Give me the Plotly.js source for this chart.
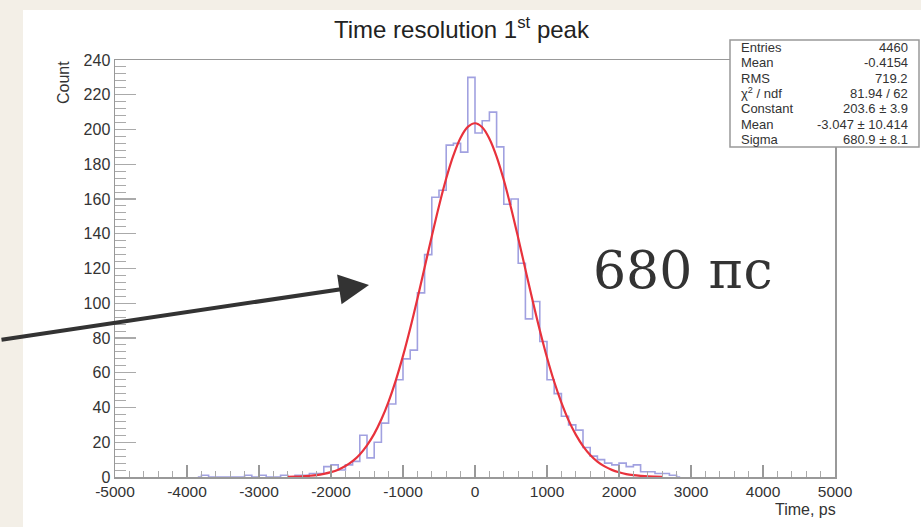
<!DOCTYPE html>
<html>
<head>
<meta charset="utf-8">
<script src="https://cdn.plot.ly/plotly-3.0.1.min.js"></script>
<style>
html,body{margin:0;padding:0;background:#f3efe7;}
#chart{width:921px;height:527px;}
</style>
</head>
<body>
<div id="chart"></div>
<script>
// Histogram: bin lower edges (ps) and counts
var binEdgesLow = [-3900,-3800,-3700,-3600,-3500,-3400,-3300,-3200,-3100,-3000,-2900,-2800,-2700,-2600,-2500,-2400,-2300,-2200,-2100,-2000,-1900,-1800,-1700,-1600,-1500,-1400,-1300,-1200,-1100,-1000,-900,-800,-700,-600,-500,-400,-300,-200,-100,0,100,200,300,400,500,600,700,800,900,1000,1100,1200,1300,1400,1500,1600,1700,1800,1900,2000,2100,2200,2300,2400,2500,2600,2700,2800];
var counts = [0,1,0,0,0,0,0,1,0,1,0,0,1,0,1,1,2,2,6,7,4,7,9,24,11,20,31,42,56,68,73,106,128,161,165,191,192,187,230,198,205,210,190,157,160,123,91,101,78,56,48,35,30,27,17,12,10,8,7,8,6,7,3,3,2,2,1,0];
var binWidth = 100;

// Fit curve (red line)
var fitX = [-2600,-2500,-2400,-2300,-2200,-2100,-2000,-1900,-1800,-1700,-1600,-1500,-1400,-1300,-1200,-1100,-1000,-900,-800,-700,-600,-500,-400,-300,-200,-100,0,100,200,300,400,500,600,700,800,900,1000,1100,1200,1300,1400,1500,1600,1700,1800,1900,2000,2100,2200,2300,2400,2500,2600];
var fitY = [0.15,0.24,0.41,0.69,1.1,1.8,2.8,4.2,6.3,9.1,13.0,18.2,24.8,33.2,43.4,55.6,69.7,85.5,102.6,120.6,138.6,156.0,171.8,185.1,195.3,201.5,203.6,201.3,194.7,184.4,170.9,155.0,137.6,119.5,101.6,84.5,68.8,54.8,42.8,32.6,24.4,17.8,12.7,8.9,6.1,4.1,2.7,1.7,1.1,0.7,0.4,0.25,0.15];

// Stats box
var statLabels = ["Entries","Mean","RMS","\u03c7<sup>2</sup> / ndf","Constant","Mean","Sigma"];
var statValues = ["4460","-0.4154","719.2","81.94 / 62","203.6 \u00b1 3.9","-3.047 \u00b1 10.414","680.9 \u00b1 8.1"];

var xTickVals = [-5000,-4000,-3000,-2000,-1000,0,1000,2000,3000,4000,5000];
var yTickVals = [0,20,40,60,80,100,120,140,160,180,200,220,240];

// Layout geometry (pixels)
var W = 921, H = 527;
var mL = 115, mR = 86, mT = 60, mB = 50;
var pw = W - mL - mR, ph = H - mT - mB;
function px2x(p){ return (p - mL) / pw; }
function px2y(p){ return (H - mB - p) / ph; }

var centers = binEdgesLow.map(function(e){ return e + binWidth/2; });

var traces = [
  {x: centers, y: counts, type:'scatter', mode:'lines',
   line:{shape:'hvh', color:'#8a8ad8', width:1.6}, opacity:0.8, hoverinfo:'skip'},
  {x: fitX, y: fitY, type:'scatter', mode:'lines',
   line:{shape:'spline', color:'#e8323c', width:2.2}, hoverinfo:'skip'}
];

var FONT = 'Liberation Sans, Arial, sans-serif';
var annotations = [];
annotations.push({xref:'paper', yref:'paper', x:px2x(462), y:px2y(28), xanchor:'center', yanchor:'middle',
  text:'Time resolution 1<sup>st</sup> peak', showarrow:false, font:{family:FONT, size:24, color:'#222'}});
annotations.push({xref:'paper', yref:'paper', x:px2x(63), y:px2y(83), xanchor:'center', yanchor:'middle',
  text:'Count', textangle:-90, showarrow:false, font:{family:FONT, size:16, color:'#333'}});
annotations.push({xref:'paper', yref:'paper', x:px2x(838), y:px2y(509), xanchor:'right', yanchor:'middle',
  text:'Time, ps', showarrow:false, font:{family:FONT, size:16, color:'#333'}});
annotations.push({xref:'paper', yref:'paper', x:px2x(683), y:px2y(270), xanchor:'center', yanchor:'middle',
  text:'680 \u043f\u0441', showarrow:false, font:{family:'DejaVu Serif, Liberation Serif, serif', size:52, color:'#333'}});
// arrow
annotations.push({xref:'paper', yref:'paper', x:px2x(369), y:px2y(285), text:'', showarrow:true,
  axref:'pixel', ayref:'pixel', ax:-369, ay:55, arrowhead:2, arrowsize:1.5, arrowwidth:4, arrowcolor:'#333', standoff:0});

var boxTop = 40, boxBot = 147, boxL = 730, boxR = 919;
var rowH = (boxBot - boxTop) / statLabels.length;
for (var i = 0; i < statLabels.length; i++) {
  var yc = boxTop + rowH * (i + 0.5);
  annotations.push({xref:'paper', yref:'paper', x:px2x(739), y:px2y(yc), xanchor:'left', yanchor:'middle',
    text:statLabels[i], showarrow:false, font:{family:FONT, size:13, color:'#333'}});
  annotations.push({xref:'paper', yref:'paper', x:px2x(910), y:px2y(yc), xanchor:'right', yanchor:'middle',
    text:statValues[i], showarrow:false, font:{family:FONT, size:13, color:'#333'}});
}

var shapes = [
  {type:'rect', xref:'paper', yref:'paper', x0:px2x(23), x1:px2x(W+2), y0:px2y(H+2), y1:px2y(10),
   fillcolor:'#ffffff', line:{width:0}, layer:'below'},
  {type:'rect', xref:'paper', yref:'paper', x0:px2x(boxL), x1:px2x(boxR), y0:px2y(boxBot), y1:px2y(boxTop),
   fillcolor:'#ffffff', line:{color:'#999', width:1.5}, layer:'above'}
];

var layout = {
  width: W, height: H,
  margin:{l:mL, r:mR, t:mT, b:mB, pad:0},
  paper_bgcolor:'#f3efe7', plot_bgcolor:'rgba(0,0,0,0)',
  showlegend:false,
  font:{family:FONT, color:'#333'},
  xaxis:{range:[-5000,5000], tickvals:xTickVals, ticktext:xTickVals.map(String),
    ticks:'inside', ticklen:12, tickwidth:1.2, tickcolor:'#999',
    minor:{dtick:200, ticks:'inside', ticklen:6, tickwidth:1, tickcolor:'#aaa', showgrid:false},
    showline:true, mirror:true, linecolor:'#999', linewidth:1.5, showgrid:false, zeroline:false,
    tickfont:{family:FONT, size:15.5, color:'#333'}, fixedrange:true},
  yaxis:{range:[0,240], tickvals:yTickVals, ticktext:yTickVals.map(String),
    ticks:'inside', ticklen:21, tickwidth:1.2, tickcolor:'#aaa',
    minor:{dtick:4, ticks:'inside', ticklen:11, tickwidth:1, tickcolor:'#aaa', showgrid:false},
    showline:true, mirror:true, linecolor:'#999', linewidth:1.5, showgrid:false, zeroline:false,
    tickfont:{family:FONT, size:16, color:'#333'}, fixedrange:true},
  annotations: annotations,
  shapes: shapes
};

Plotly.newPlot('chart', traces, layout, {displayModeBar:false, staticPlot:true});
</script>
</body>
</html>
